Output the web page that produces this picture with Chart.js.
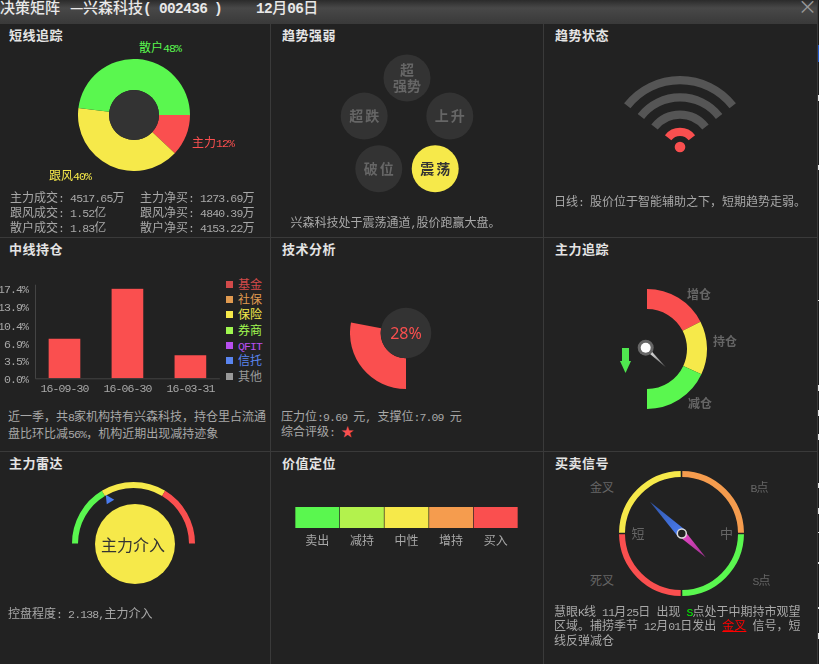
<!DOCTYPE html>
<html>
<head>
<meta charset="utf-8">
<script src="https://cdn.jsdelivr.net/npm/chart.js@4"></script>
<style>
html, body { margin: 0; background: #222; overflow: hidden; }
#page { position: relative; width: 819px; height: 664px; overflow: hidden; background: #222;
  font: 12px "Noto Sans CJK SC", sans-serif; color: #a8a8a8; }
#page div, #page canvas { position: absolute; }
#top { left: 0; top: 0; width: 819px; height: 23px; background: linear-gradient(#2b2b2b, #484848 35%, #3a3a3a); }
.t { white-space: pre; line-height: 16px; }
.a { font-family: "Liberation Mono", monospace; font-size: .96em; letter-spacing: -.075em; }
.h { font-size: 13px; font-weight: 700; color: #e4e4e4; letter-spacing: .5px; }
.m { font-size: 15px; color: #e8e8e8; font-weight: 500; }
.m .a { letter-spacing: -.04em; font-weight: 700; }
.d { color: #666; font-weight: 700; }
</style>
</head>
<body>
<div id="page"><div id="top"></div></div>
<script>
// short line tracking
const shortLabels = ["主力", "跟风", "散户"];
const shortShare = [12, 40, 48];
const shortDeals = ["4517.65万", "1.52亿", "1.83亿"];
const shortNet = ["1273.69万", "4840.39万", "4153.22万"];
// trend strength, clockwise from the top
const trendLabels = [["超", "强势"], ["上升"], ["震荡"], ["破位"], ["超跌"]];
const trendRadius = [52, 45, 48, 48, 45];
const trendActive = 2;
// trend state, outer bar first
const wifiBars = [0, 0, 0, 1];
// mid line holdings
const holdDates = ["16-09-30", "16-06-30", "16-03-31"];
const holdValues = [7.6, 17.4, 4.4];
const holdTicks = [0, 3.5, 6.9, 10.4, 13.9, 17.4];
const holdLegend = ["基金", "社保", "保险", "券商", "QFIT", "信托", "其他"];
const holdLegendColors = ["#d24a4a", "#e09a50", "#f6e94a", "#a0f850", "#b84ff0", "#5a85f0", "#999999"];
// tech analysis
const techPercent = 28;
// main force gauge
const gaugeLabels = ["增仓", "持仓", "减仓"];
const gaugeShare = [63, 52, 65];
const gaugeNeedle = 134;
// main force radar
const radarShare = [59, 62, 59];
const radarMarker = -29;
// value position
const valueLabels = ["卖出", "减持", "中性", "增持", "买入"];
const valueCells = [1, 1, 1, 1, 1];
// buy sell compass
const compassCells = [1, 1, 1, 1];
const compassNeedle = -45;

const RED = "#fa4f4f", YELLOW = "#f6e94a", GREEN = "#5af74f", ORANGE = "#f59c4e", LIME = "#b3f24d";
const page = document.getElementById("page");

Chart.defaults.animation = false;
Chart.defaults.responsive = false;
Chart.defaults.plugins.legend.display = false;
Chart.defaults.plugins.tooltip.enabled = false;

function put(html, x, y, cls, color, size) {
  const el = document.createElement("div");
  el.className = "t " + (cls || "");
  // latin runs get a half width mono look
  el.innerHTML = html.replace(/(<[^>]+>)|([\x20-\x3b\x3d-\x7e]+)/g, (m, tag, txt) => tag ? tag : '<span class="a">' + txt + "</span>");
  el.style.left = x + "px";
  el.style.top = y - 8.5 + "px";
  if (color) el.style.color = color;
  if (size) el.style.fontSize = size + "px";
  page.appendChild(el);
  return el;
}

function box(x, y, w, h, color) {
  const el = document.createElement("div");
  el.style.cssText = `left:${x}px;top:${y}px;width:${w}px;height:${h}px;background:${color}`;
  page.appendChild(el);
}

function mount(x, y, w, h) {
  const c = document.createElement("canvas");
  c.width = w;
  c.height = h;
  c.style.left = x + "px";
  c.style.top = y + "px";
  page.appendChild(c);
  return c;
}

// disc and text in the middle of a doughnut
const disc = {
  id: "disc",
  afterDatasetsDraw(chart, args, o) {
    if (!o.r) return;
    const ctx = chart.ctx;
    const x = chart.width / 2 + (o.dx || 0), y = chart.height / 2 + (o.dy || 0);
    ctx.save();
    ctx.fillStyle = o.color;
    ctx.beginPath();
    ctx.arc(x, y, o.r, 0, Math.PI * 2);
    ctx.fill();
    if (o.text) {
      ctx.fillStyle = o.textColor;
      ctx.font = o.font;
      ctx.textAlign = "center";
      ctx.textBaseline = "middle";
      ctx.fillText(o.text, x + (o.tx || 0), y + (o.ty || 0));
    }
    ctx.restore();
  }
};

function ring(cx, cy, R, cfg) {
  const pad = cfg.spacing || 0;
  return new Chart(mount(cx - R - pad / 2, cy - R - pad / 2, 2 * R + pad, 2 * R + pad), {
    type: "doughnut",
    data: { datasets: cfg.datasets },
    options: {
      rotation: cfg.rotation || 0,
      cutout: cfg.cutout,
      spacing: pad,
      plugins: { disc: cfg.disc || {} },
      layout: { padding: 0 }
    },
    plugins: [disc].concat(cfg.extra || [])
  });
}

// frame
box(0, 23, 817, 1, "#3a3a3a");
box(0, 237, 817, 1, "#3a3a3a");
box(0, 451, 817, 1, "#3a3a3a");
box(270, 24, 1, 640, "#3a3a3a");
box(543, 24, 1, 640, "#3a3a3a");
box(817, 0, 1, 664, "#3a3a3a");
box(818, 0, 1, 664, "#1b1b1b");
box(818, 45, 1, 17, "#1f55c8");
[[95, 6], [165, 5], [300, 1], [385, 6], [410, 6], [434, 6], [483, 5], [508, 6], [532, 1], [562, 2], [607, 2], [633, 6]].forEach(m => box(818, m[0], 1, m[1], "#e0e0e0"));

// title bar
put("决策矩阵", 0, 7, "m");
put("—", 70, 7, "m");
put("兴森科技(", 83, 7, "m");
put("002436", 159, 7, "m");
put(")", 214, 7, "m");
put("12月06日", 256, 7, "m");
put("×", 798, 6.5, "", "#999", 19);

["短线追踪", "趋势强弱", "趋势状态"].forEach((s, i) => put(s, 9 + i * 273, 35, "h"));
["中线持仓", "技术分析", "主力追踪"].forEach((s, i) => put(s, 9 + i * 273, 249, "h"));
["主力雷达", "价值定位", "买卖信号"].forEach((s, i) => put(s, 9 + i * 273, 463, "h"));

// short line tracking
ring(133.5, 115, 56, {
  rotation: 90,
  cutout: 25,
  datasets: [{ data: shortShare, backgroundColor: [RED, YELLOW, GREEN], borderWidth: 0 }],
  disc: { r: 25, color: "#333" }
});
put(shortLabels[2] + shortShare[2] + "%", 139, 47, "", GREEN);
put(shortLabels[0] + shortShare[0] + "%", 192, 142, "", RED);
put(shortLabels[1] + shortShare[1] + "%", 49, 175, "", YELLOW);
shortLabels.forEach((s, i) => {
  const y = 197 + i * 15;
  put(s + "成交: " + shortDeals[i], 10, y);
  put(s + "净买: " + shortNet[i], 140, y);
});

// trend strength
new Chart(mount(306.5, 29.7, 200, 200), {
  type: "radar",
  data: {
    labels: trendLabels,
    datasets: [{
      data: trendRadius,
      fill: false,
      showLine: false,
      borderWidth: 0,
      pointRadius: 23.5,
      pointBorderWidth: 0,
      pointBackgroundColor: trendLabels.map((s, i) => i === trendActive ? YELLOW : "#333333"),
      clip: false
    }]
  },
  options: {
    scales: { r: { display: false, min: 0, max: 100 } }
  },
  plugins: [{
    id: "trendText",
    afterDatasetsDraw(chart) {
      const ctx = chart.ctx;
      ctx.save();
      ctx.textAlign = "center";
      ctx.textBaseline = "middle";
      ctx.font = '700 14px "Noto Sans CJK SC"';
      chart.getDatasetMeta(0).data.forEach((pt, i) => {
        const lines = trendLabels[i];
        ctx.fillStyle = i === trendActive ? "#333" : "#666";
        ctx.letterSpacing = lines.length > 1 ? "0px" : "2px";
        lines.forEach((s, k) => ctx.fillText(s, pt.x + (lines.length > 1 ? 0 : 1), pt.y + (k - (lines.length - 1) / 2) * 16));
      });
      ctx.restore();
    }
  }]
});
put("兴森科技处于震荡通道,股价跑赢大盘。", 290.5, 222.5);

// trend state
const wifiSets = [];
wifiBars.forEach((on, i) => {
  wifiSets.push({ data: [104, 256], backgroundColor: [on ? RED : "#555555", "transparent"], borderWidth: 0, weight: 8 });
  if (i < wifiBars.length - 1) wifiSets.push({ data: [1], backgroundColor: ["transparent"], borderWidth: 0, weight: 9 });
});
ring(680, 146.7, 71, {
  rotation: -52,
  cutout: 11,
  datasets: wifiSets,
  disc: { r: 5.3, color: RED }
});
put("日线: 股价位于智能辅助之下，短期趋势走弱。", 554, 201.5);

// mid line holdings
const tickFont = { family: "Liberation Mono", size: 11.5, lineHeight: 0.3 };
new Chart(mount(0, 276, 222, 122), {
  type: "bar",
  data: {
    labels: holdDates,
    datasets: [{ data: holdValues, backgroundColor: RED, barThickness: 31 }]
  },
  options: {
    layout: { padding: { top: 12.7 } },
    scales: {
      x: {
        grid: { display: false, drawTicks: false },
        border: { display: false },
        ticks: { color: "#a8a8a8", font: { family: "Liberation Mono", size: 11.5 }, padding: 4, maxRotation: 0 },
        afterFit(s) { s.height = 19.7; }
      },
      y: {
        min: 0,
        max: 17.4,
        grid: { display: false, drawTicks: false },
        border: { display: false },
        afterBuildTicks(s) { s.ticks = holdTicks.map(v => ({ value: v })); },
        // blank first line nudges the label down a little
        ticks: { color: "#a8a8a8", font: tickFont, padding: 5, autoSkip: false, callback: v => ["", v.toFixed(1) + "%"] },
        afterFit(s) { s.width = 33; }
      }
    }
  },
  plugins: [{
    id: "axisLines",
    beforeDraw(chart) { chart.ctx.letterSpacing = "-0.9px"; },
    afterDraw(chart) {
      const ctx = chart.ctx, a = chart.chartArea;
      ctx.save();
      ctx.strokeStyle = "#444";
      ctx.beginPath();
      ctx.moveTo(a.left + 2.5, a.top - 4);
      ctx.lineTo(a.left + 2.5, a.bottom + 0.5);
      ctx.lineTo(a.right - 2, a.bottom + 0.5);
      ctx.stroke();
      ctx.restore();
    }
  }]
});
holdLegend.forEach((s, i) => {
  const y = 284.3 + i * 15.3;
  box(226, Math.round(y - 3.5), 7, 7, holdLegendColors[i]);
  const el = put(s, 235, y, "", holdLegendColors[i]);
  el.style.width = "30px";
  el.style.textAlign = "center";
});
put("近一季，共8家机构持有兴森科技，持仓里占流通", 8, 416);
put("盘比环比减56%，机构近期出现减持迹象", 8, 433);

// tech analysis
ring(406.3, 333.3, 56, {
  rotation: 180,
  cutout: 25.3,
  datasets: [{ data: [techPercent, 100 - techPercent], backgroundColor: [RED, "transparent"], borderWidth: 0 }],
  disc: { r: 25.3, color: "#333", text: techPercent + "%", textColor: RED, font: '16px "Noto Sans"', ty: 1 }
});
put("压力位:9.69 元, 支撑位:7.09 元", 281, 416);
put('综合评级: <span style="color:' + RED + ';font-size:13px">★</span>', 281, 431);

// main force gauge
ring(647, 349, 60, {
  rotation: 0,
  cutout: 40,
  datasets: [{ data: [...gaugeShare, 180], backgroundColor: [RED, YELLOW, GREEN, "transparent"], borderWidth: 0 }],
  extra: [{
    id: "gaugeNeedle",
    afterDatasetsDraw(chart) {
      const ctx = chart.ctx, px = chart.width / 2 - 1.3, py = chart.height / 2 - 1.3;
      const a = (gaugeNeedle - 90) * Math.PI / 180;
      const nx = Math.cos(a), ny = Math.sin(a);
      ctx.save();
      const g = ctx.createLinearGradient(px, py, px + nx * 28, py + ny * 28);
      g.addColorStop(0, "#ffffff");
      g.addColorStop(1, "#666666");
      ctx.fillStyle = g;
      ctx.beginPath();
      ctx.moveTo(px - ny * 2, py + nx * 2);
      ctx.lineTo(px + ny * 2, py - nx * 2);
      ctx.lineTo(px + nx * 28, py + ny * 28);
      ctx.fill();
      ctx.fillStyle = "#666";
      ctx.beginPath();
      ctx.arc(px, py, 8, 0, Math.PI * 2);
      ctx.fill();
      ctx.fillStyle = "#fff";
      ctx.beginPath();
      ctx.arc(px, py, 5, 0, Math.PI * 2);
      ctx.fill();
      // down arrow
      const ax = chart.width / 2 - 21.5, ay = chart.height / 2;
      ctx.fillStyle = "#4fe84f";
      ctx.fillRect(ax - 3.5, ay - 1, 7, 13);
      ctx.beginPath();
      ctx.moveTo(ax - 5.5, ay + 12);
      ctx.lineTo(ax + 5.5, ay + 12);
      ctx.lineTo(ax, ay + 24);
      ctx.fill();
      ctx.restore();
    }
  }]
});
put(gaugeLabels[0], 687, 294.5, "d");
put(gaugeLabels[1], 713, 341.5, "d");
put(gaugeLabels[2], 688, 403.5, "d");

// main force radar
ring(133.5, 543.5, 61.5, {
  rotation: -90,
  cutout: 55.5,
  datasets: [{ data: [...radarShare, 180], backgroundColor: [GREEN, YELLOW, RED, "transparent"], borderWidth: 0 }],
  disc: { r: 40, dx: 1.5, dy: 0.5, color: YELLOW, text: "主力介入", textColor: "#333", font: '16px "Noto Sans CJK SC"', tx: -2, ty: 1 },
  extra: [{
    id: "radarMarker",
    afterDraw(chart) {
      const ctx = chart.ctx;
      const a = (radarMarker - 90) * Math.PI / 180;
      const x = chart.width / 2 + Math.cos(a) * 50, y = chart.height / 2 + Math.sin(a) * 50;
      ctx.save();
      ctx.fillStyle = "#4a7cf0";
      ctx.beginPath();
      ctx.moveTo(x - 3.5, y - 5);
      ctx.lineTo(x + 5, y);
      ctx.lineTo(x - 2.5, y + 4.5);
      ctx.fill();
      ctx.restore();
    }
  }]
});
put("控盘程度: 2.138,主力介入", 8, 613.5);

// value position
new Chart(mount(295, 507, 223, 45), {
  type: "bar",
  data: {
    labels: valueLabels,
    datasets: [{
      data: valueCells,
      backgroundColor: [GREEN, LIME, YELLOW, ORANGE, RED],
      categoryPercentage: 1,
      barPercentage: 0.985
    }]
  },
  options: {
    scales: {
      x: {
        grid: { display: false, drawTicks: false },
        border: { display: false },
        ticks: { color: "#a8a8a8", font: { family: "Noto Sans CJK SC", size: 12 }, padding: 5, maxRotation: 0 },
        afterFit(s) { s.height = 24; }
      },
      y: { display: false, min: 0, max: 1 }
    }
  }
});

// buy sell compass
ring(681, 533.3, 61.5, {
  cutout: 55.5,
  spacing: 2,
  datasets: [{ data: compassCells, backgroundColor: [ORANGE, GREEN, RED, YELLOW], borderWidth: 0 }],
  extra: [{
    id: "compassNeedle",
    afterDatasetsDraw(chart) {
      const ctx = chart.ctx, cx = chart.width / 2 + 0.3, cy = chart.height / 2;
      const a = (compassNeedle - 90) * Math.PI / 180;
      const nx = Math.cos(a), ny = Math.sin(a);
      const blade = (len, half, from, to) => {
        const g = ctx.createLinearGradient(cx, cy, cx + nx * len, cy + ny * len);
        g.addColorStop(0, from);
        g.addColorStop(1, to);
        ctx.fillStyle = g;
        ctx.beginPath();
        ctx.moveTo(cx - ny * half, cy + nx * half);
        ctx.lineTo(cx + ny * half, cy - nx * half);
        ctx.lineTo(cx + nx * len, cy + ny * len);
        ctx.fill();
      };
      ctx.save();
      blade(45, 5, "#4a7cf0", "#2f55a8");
      blade(-34, -4, "#e848c8", "#a03090");
      ctx.fillStyle = "#222";
      ctx.strokeStyle = "#ddd";
      ctx.lineWidth = 1.5;
      ctx.beginPath();
      ctx.arc(cx, cy, 4.5, 0, Math.PI * 2);
      ctx.fill();
      ctx.stroke();
      ctx.restore();
    }
  }]
});
put("金叉", 590, 487.5, "", "#666");
put("B点", 750.5, 487.5, "", "#666");
put("短", 631.5, 533, "", "#666", 13);
put("中", 720, 533, "", "#666", 13);
put("死叉", 590, 580.5, "", "#666");
put("S点", 752.5, 580.5, "", "#666");
put('慧眼K线 11月25日 出现 <span style="color:#0f0">S</span>点处于中期持市观望', 554, 611);
put('区域。捕捞季节 12月01日发出 <span style="color:#f00;text-decoration:underline">金叉</span> 信号，短', 554, 625.5);
put("线反弹减仓", 554, 640);
</script>
</body>
</html>
